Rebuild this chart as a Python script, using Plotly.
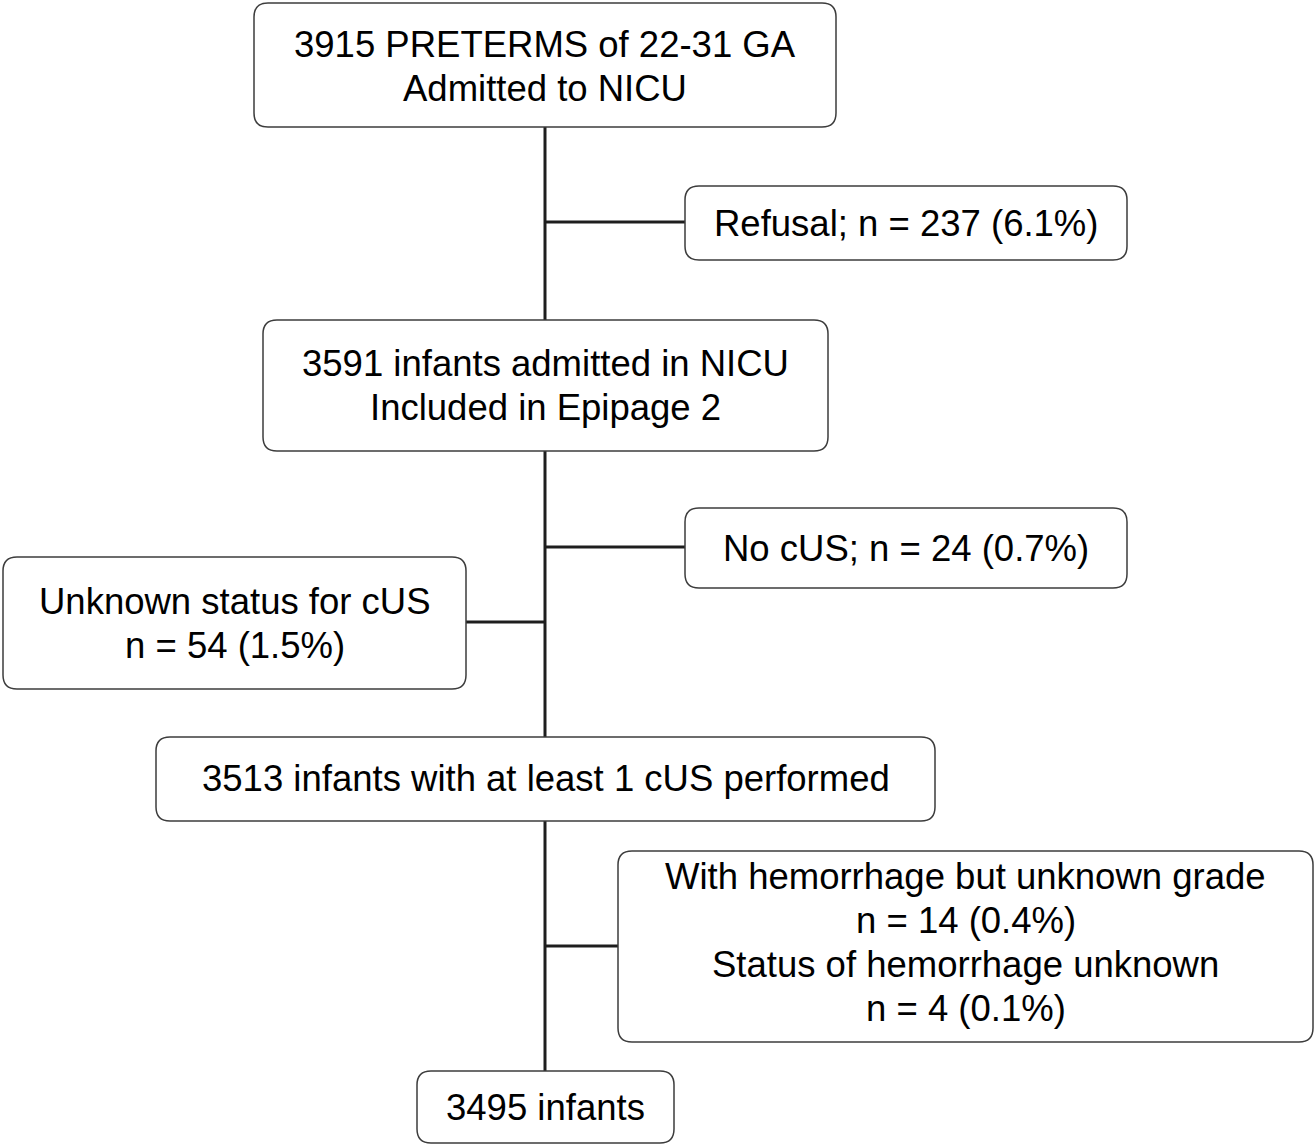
import plotly.graph_objects as go

# ---- content ----
box_labels = [
    "3915 PRETERMS of 22-31 GA<br>Admitted to NICU",
    "Refusal; n = 237 (6.1%)",
    "3591 infants admitted in NICU<br>Included in Epipage 2",
    "No cUS; n = 24 (0.7%)",
    "Unknown status for cUS<br>n = 54 (1.5%)",
    "3513 infants with at least 1 cUS performed",
    "With hemorrhage but unknown grade<br>n = 14 (0.4%)<br>Status of hemorrhage unknown<br>n = 4 (0.1%)",
    "3495 infants",
]

# ---- layout (pixel geometry: left, top, right, bottom) ----
box_geom = [
    (254, 3, 836, 127),
    (685, 186, 1127, 260),
    (263, 320, 828, 451),
    (685, 508, 1127, 588),
    (3, 557, 466, 689),
    (156, 737, 935, 821),
    (618, 851, 1313, 1042),
    (417, 1071, 674, 1143),
]
text_dy = [1, 0, 0, 0, 0, -1, -4, 0]  # small vertical nudges of text within boxes
spine_x = 545
connectors = [  # (x0, x1, y)
    (545, 685, 222),
    (545, 685, 547),
    (466, 545, 622),
    (545, 618, 946),
]

W, H = 1315, 1145
R = 14
BORDER = "#3c3c3c"
LINE = "#1e1e1e"
FONT_SIZE = 36.5
LINE_GAP = 44


def rounded_path(x0, y0, x1, y1, r):
    return (f"M {x0+r},{y0} L {x1-r},{y0} Q {x1},{y0} {x1},{y0+r} "
            f"L {x1},{y1-r} Q {x1},{y1} {x1-r},{y1} "
            f"L {x0+r},{y1} Q {x0},{y1} {x0},{y1-r} "
            f"L {x0},{y0+r} Q {x0},{y0} {x0+r},{y0} Z")


fig = go.Figure()
shapes = []
shapes.append(dict(type="line", x0=spine_x, x1=spine_x, y0=box_geom[0][3], y1=box_geom[-1][1],
                   line=dict(color=LINE, width=3), layer="below"))
for x0, x1, y in connectors:
    shapes.append(dict(type="line", x0=x0, x1=x1, y0=y, y1=y,
                       line=dict(color=LINE, width=3), layer="below"))

annotations = []
for label, (x0, y0, x1, y1), dy in zip(box_labels, box_geom, text_dy):
    shapes.append(dict(type="path", path=rounded_path(x0, y0, x1, y1, R),
                       line=dict(color=BORDER, width=1.5), fillcolor="white", layer="above"))
    lines = label.split("<br>")
    cy = (y0 + y1) / 2 + dy
    n = len(lines)
    for i, ln in enumerate(lines):
        yy = cy + (i - (n - 1) / 2) * LINE_GAP
        annotations.append(dict(x=(x0 + x1) / 2, y=yy, text=ln, showarrow=False,
                                xanchor="center", yanchor="middle", align="center",
                                font=dict(family="Liberation Sans, Arial, sans-serif",
                                          size=FONT_SIZE, color="black")))

fig.update_layout(
    width=W, height=H,
    margin=dict(l=0, r=0, t=0, b=0),
    paper_bgcolor="white", plot_bgcolor="white",
    xaxis=dict(range=[0, W], visible=False, fixedrange=True),
    yaxis=dict(range=[H, 0], visible=False, fixedrange=True),
    shapes=shapes, annotations=annotations, showlegend=False,
)

fig.write_html("out.html", config={"displayModeBar": False},
               post_script="document.body.style.margin='0';document.body.style.overflow='hidden';")
